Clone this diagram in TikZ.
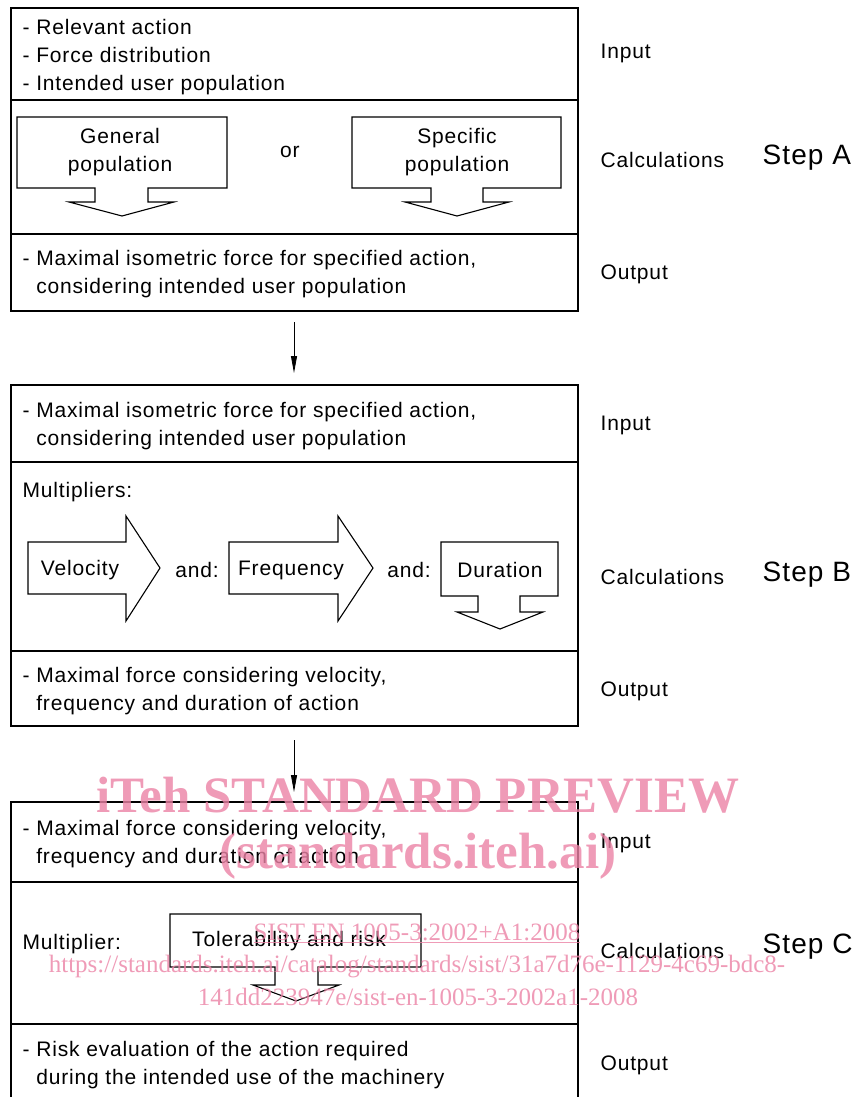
\documentclass[tikz,border=0pt]{standalone}
\usepackage{fontspec}
\setmainfont[LetterSpace=4]{Liberation Sans}
\newfontfamily\wmfont{Liberation Serif}
\usetikzlibrary{arrows.meta}
\definecolor{wmpink}{RGB}{235,130,165}
\tikzset{every path/.style={black,line width=1.2pt}, every node/.style={inner sep=0pt, font=\fontsize{21}{28}\selectfont}}
\tikzset{txt/.style={anchor=west, align=left}, side/.style={anchor=west}, steplbl/.style={anchor=west, font=\fontsize{28}{34}\selectfont},
  blockarrow/.style={line width=1.1pt}, flow/.style={line width=0.8pt, -{Triangle[width=6pt,length=17pt]}},
  wm/.style={text=wmpink, text opacity=0.8, font=\wmfont\bfseries\fontsize{51}{56}\selectfont},
  wmsmall/.style={text=wmpink, text opacity=0.8, font=\wmfont\fontsize{25}{30}\selectfont}}

\begin{document}
\begin{tikzpicture}[x=1pt,y=-1pt]
     \useasboundingbox (0,0) rectangle (859,1097);
     \begin{scope}
      \draw (11,8) rectangle (578,311);
      \draw (11,100) -- (578,100);
      \draw (11,234) -- (578,234);
      \node[txt] (ain) at (22,57) {- Relevant action\\- Force distribution\\- Intended user population};
      \draw[blockarrow] (17,117) -- (227,117) -- (227,188) -- (148,188) -- (148,202) -- (174,202) -- (122,216) -- (69,202) -- (95,202) -- (95,188) -- (17,188) -- cycle;
      \draw[blockarrow] (352,117) -- (561,117) -- (561,188) -- (483,188) -- (483,202) -- (509,202) -- (457,216) -- (405,202) -- (431,202) -- (431,188) -- (352,188) -- cycle;
      \node[align=center] (general) at (120,152) {General\\population};
      \node[align=center] (specific) at (457,152) {Specific\\population};
      \node (or) at (290,152) {or};
      \node[txt] (aout) at (22,274) {- Maximal isometric force for specified action,\\\phantom{- }considering intended user population};
      \node[side] (ainlbl) at (600,53) {Input};
      \node[side] (acalc) at (600,160) {Calculations};
      \node[side] (aoutlbl) at (600,274) {Output};
      \node[steplbl] (stepa) at (762,158) {Step A};
      \coordinate (aend) at (294,322);
     \end{scope}
     \begin{scope}
      \draw (11,385) rectangle (578,726);
      \draw (11,462) -- (578,462);
      \draw (11,651) -- (578,651);
      \coordinate (bstart) at (294,373);
      \node[txt] (bin) at (22,426) {- Maximal isometric force for specified action,\\\phantom{- }considering intended user population};
      \node[side] (mults) at (22,492) {Multipliers:};
      \draw[blockarrow] (28,542) -- (126,542) -- (126,516) -- (160,568) -- (126,621) -- (126,594) -- (28,594) -- cycle;
      \draw[blockarrow] (229,542) -- (338,542) -- (338,516) -- (373,568) -- (338,621) -- (338,594) -- (229,594) -- cycle;
      \draw[blockarrow] (441,542) -- (558,542) -- (558,596) -- (520,596) -- (520,612) -- (543,612) -- (500,629) -- (457,612) -- (478,612) -- (478,596) -- (441,596) -- cycle;
      \node (velocity) at (80,570) {Velocity};
      \node (and1) at (197,570) {and:};
      \node (frequency) at (291,570) {Frequency};
      \node (and2) at (409,570) {and:};
      \node (duration) at (500,570) {Duration};
      \node[txt] (bout) at (22,691) {- Maximal force considering velocity,\\\phantom{- }frequency and duration of action};
      \node[side] (binlbl) at (600,425) {Input};
      \node[side] (bcalc) at (600,577) {Calculations};
      \node[side] (boutlbl) at (600,691) {Output};
      \node[steplbl] (stepb) at (762,575) {Step B};
      \coordinate (bend) at (294,740);
     \end{scope}
     \begin{scope}
      \draw (11,1120) -- (11,802) -- (578,802) -- (578,1120);
      \draw (11,882) -- (578,882);
      \draw (11,1024) -- (578,1024);
      \coordinate (cstart) at (294,792);
      \node[txt] (cin) at (22,844) {- Maximal force considering velocity,\\\phantom{- }frequency and duration of action};
      \node[side] (mult) at (22,944) {Multiplier:};
      \draw[blockarrow] (170,914) -- (421,914) -- (421,967) -- (318,967) -- (318,985) -- (339,985) -- (296,1001) -- (253,985) -- (275,985) -- (275,967) -- (170,967) -- cycle;
      \node (toler) at (289,941) {Tolerability and risk};
      \node[txt] (cout) at (22,1065) {- Risk evaluation of the action required\\\phantom{- }during the intended use of the machinery};
      \node[side] (cinlbl) at (600,843) {Input};
      \node[side] (ccalc) at (600,951) {Calculations};
      \node[side] (coutlbl) at (600,1065) {Output};
      \node[steplbl] (stepc) at (762,947) {Step C};
     \end{scope}
     \draw[flow] (aend) -- (bstart);
     \draw[flow] (bend) -- (cstart);
     \node[wm] (wmtitle) at (418,795) {iTeh STANDARD PREVIEW};
     \node[wm] (wmsite) at (418,856) {(standards.iteh.ai)};
     \node[wmsmall] (wmsist) at (417,933) {\underline{SIST EN 1005-3:2002+A1:2008}};
     \node[wmsmall] (wmurl) at (417,967) {https://standards.iteh.ai/catalog/standards/sist/31a7d76e-1129-4c69-bdc8-};
     \node[wmsmall] (wmid) at (418,997) {141dd223947e/sist-en-1005-3-2002a1-2008};
    \end{tikzpicture}
\end{document}
